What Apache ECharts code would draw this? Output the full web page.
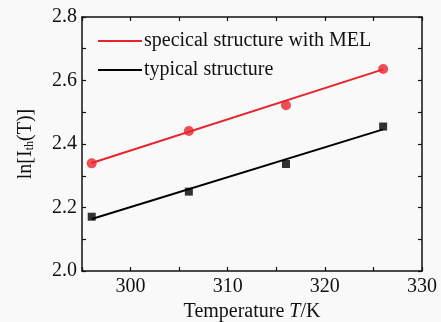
<!DOCTYPE html>
<html>
<head>
<meta charset="utf-8">
<script src="https://cdn.jsdelivr.net/npm/echarts@6/dist/echarts.min.js"></script>
<style>
html,body{margin:0;padding:0;background:#f9f9f9;}
#main{width:441px;height:322px;}
</style>
</head>
<body>
<div id="main"></div>
<script>
// measured points (T in K)
var temps = [296, 306, 316, 326];
var melValues = [2.339, 2.441, 2.522, 2.636];
var typValues = [2.171, 2.250, 2.337, 2.455];
// fitted line end points
var fitT = [296, 326];
var melFit = [2.340, 2.635];
var typFit = [2.164, 2.446];
var legendNames = ['specical structure with MEL', 'typical structure'];
var xTicks = [300, 310, 320, 330];

var redColor = '#e8232b';
var fontFam = '"Liberation Serif", "Times New Roman", serif';
var lineIcon = 'path://M0,0L44,0L44,2L0,2Z';

function pairs(xs, ys) {
    return xs.map(function (x, i) { return [x, ys[i]]; });
}

var myChart = echarts.init(document.getElementById('main'));

var axisLineStyle = {show: true, lineStyle: {color: '#111', width: 1.5}};

var option = {
    backgroundColor: '#f9f9f9',
    animation: false,
    grid: {left: 82, right: 19, top: 17, bottom: 51, outerBoundsMode: 'none', containLabel: false},
    legend: {
        orient: 'vertical',
        left: 93,
        top: 26,
        itemWidth: 44,
        itemHeight: 2,
        itemGap: 9,
        data: legendNames.map(function (n) { return {name: n, icon: lineIcon}; }),
        textStyle: {fontFamily: fontFam, fontSize: 20, color: '#111', padding: [0, 0, 0, -3]}
    },
    xAxis: [{
        type: 'value',
        min: 295,
        max: 330,
        interval: 5,
        axisLine: axisLineStyle,
        axisTick: {inside: true, length: 4, lineStyle: {color: '#111', width: 1.2}},
        splitLine: {show: false},
        axisLabel: {
            margin: 6,
            fontFamily: fontFam,
            fontSize: 20,
            color: '#111',
            formatter: function (v) { return xTicks.indexOf(v) >= 0 ? String(v) : ''; }
        },
        name: '{n|Temperature }{i|T}{n|/K}',
        nameLocation: 'middle',
        nameGap: 31,
        nameTextStyle: {
            rich: {
                n: {fontFamily: fontFam, fontSize: 20, color: '#111'},
                i: {fontFamily: fontFam, fontSize: 20, fontStyle: 'italic', color: '#111'}
            }
        }
    }, {
        type: 'value',
        position: 'top',
        min: 295,
        max: 330,
        interval: 5,
        axisLine: axisLineStyle,
        axisTick: {inside: true, length: 4, lineStyle: {color: '#111', width: 1.2}},
        axisLabel: {show: false},
        splitLine: {show: false}
    }],
    yAxis: [{
        type: 'value',
        min: 2.0,
        max: 2.8,
        interval: 0.1,
        axisLine: axisLineStyle,
        axisTick: {inside: true, length: 4, lineStyle: {color: '#111', width: 1.2}},
        splitLine: {show: false},
        axisLabel: {
            margin: 5,
            fontFamily: fontFam,
            fontSize: 20,
            color: '#111',
            formatter: function (v) {
                var k = Math.round(v * 10);
                return k % 2 === 0 ? (k / 10).toFixed(1) : '';
            }
        },
        name: '{n|ln[I}{s|th}{n|(T)]}',
        nameLocation: 'middle',
        nameGap: 46,
        nameTextStyle: {
            rich: {
                n: {fontFamily: fontFam, fontSize: 20, color: '#111'},
                s: {fontFamily: fontFam, fontSize: 12, color: '#111', verticalAlign: 'bottom', padding: [8, 0, 0, 0]}
            }
        }
    }, {
        type: 'value',
        position: 'right',
        min: 2.0,
        max: 2.8,
        interval: 0.1,
        axisLine: axisLineStyle,
        axisTick: {inside: true, length: 4, lineStyle: {color: '#111', width: 1.2}},
        axisLabel: {show: false},
        splitLine: {show: false}
    }],
    series: [{
        name: legendNames[0],
        type: 'line',
        data: pairs(fitT, melFit),
        symbol: 'none',
        lineStyle: {color: redColor, width: 2},
        itemStyle: {color: redColor}
    }, {
        name: legendNames[1],
        type: 'line',
        data: pairs(fitT, typFit),
        symbol: 'none',
        lineStyle: {color: '#000', width: 2},
        itemStyle: {color: '#000'}
    }, {
        name: 'mel points',
        type: 'scatter',
        data: pairs(temps, melValues),
        symbol: 'circle',
        symbolSize: 10,
        itemStyle: {color: redColor}
    }, {
        name: 'typical points',
        type: 'scatter',
        data: pairs(temps, typValues),
        symbol: 'rect',
        symbolSize: 8,
        itemStyle: {color: '#000'}
    }]
};
myChart.setOption(option);
</script>
</body>
</html>
